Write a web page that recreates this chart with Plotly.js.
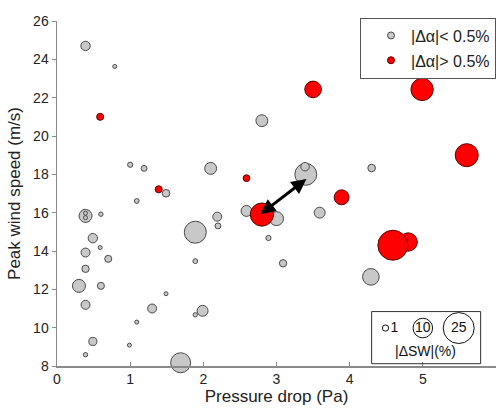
<!DOCTYPE html>
<html>
<head>
<meta charset="utf-8">
<script src="https://cdn.plot.ly/plotly-3.0.1.min.js"></script>
<style>html,body{margin:0;padding:0;background:#fff;}#chart{width:500px;height:408px;}</style>
</head>
<body>
<div id="chart"></div>
<script>
// Gray points: |Δα| < 0.5%
const grayX  = [0.39,0.79,1.00,1.19,2.10,1.49,1.09,0.39,0.39,0.39,0.60,0.49,0.59,0.39,0.70,0.39,0.30,0.60,0.39,1.30,1.09,0.49,0.99,0.39,1.49,1.89,1.89,2.19,2.20,1.99,1.89,1.69,2.59,2.80,3.40,3.39,3.00,3.59,2.89,3.09,4.30,4.29];
const grayY  = [24.70,23.63,18.50,18.31,18.31,17.01,16.61,15.83,15.97,15.74,15.92,14.67,14.18,13.92,13.59,13.07,12.18,12.18,11.19,11.00,10.29,9.28,9.09,8.59,11.77,13.47,14.98,15.79,15.31,10.88,10.67,8.17,16.09,20.80,18.00,18.40,15.69,16.00,14.68,13.36,18.33,12.65];
const graySW = [2.3,0.4,0.7,0.9,3.7,1.5,0.6,4.4,0.35,0.35,0.5,2.3,0.2,2.1,1.3,1.4,4.4,1.3,2.1,2.1,0.4,1.7,0.3,0.5,0.3,0.6,12.6,2.1,0.9,3.1,0.5,10.4,3.1,3.7,12.5,1.9,5.1,3.1,0.7,1.4,1.5,7.2];
// Red points: |Δα| > 0.5%
const redX  = [0.59,1.39,2.59,3.50,3.89,4.99,5.60,4.80,4.59,2.80];
const redY  = [21.00,17.22,17.80,22.43,16.80,22.43,19.00,14.47,14.30,15.90];
const redSW = [1.3,1.3,1.2,7.2,5.8,13.0,13.8,8.7,23.4,14.0];
// Size legend
const legendSizes = [1,10,25];
const legendLabels = ['1','10','25'];
const legendNames = ['|Δα|< 0.5%','|Δα|> 0.5%'];
// Arrow between the two highlighted cases
const arrowFrom = [3.43,17.82];
const arrowTo = [2.78,15.92];

const SREF = 2/38.4;
const FONT = 'Liberation Sans, Arial, sans-serif';
const GRAY = '#c8c8c8', RED = '#ff0000';

const traces = [
  {x: grayX, y: grayY, type:'scatter', mode:'markers', showlegend:false, cliponaxis:false,
   marker:{size: graySW, sizemode:'area', sizeref:SREF, sizemin:2, opacity:1, color:GRAY, line:{color:'#4a4a4a', width:1}}},
  {x: redX, y: redY, type:'scatter', mode:'markers', showlegend:false, cliponaxis:false,
   marker:{size: redSW, sizemode:'area', sizeref:SREF, sizemin:2, opacity:1, color:RED, line:{color:'#5a0000', width:1}}},
  {x:[null], y:[null], type:'scatter', mode:'markers', name: legendNames[0], legendgroup:'a',
   marker:{size:7, opacity:1, color:GRAY, line:{color:'#4a4a4a', width:1}}},
  {x:[null], y:[null], type:'scatter', mode:'markers', name: legendNames[1], legendgroup:'b',
   marker:{size:7, opacity:1, color:RED, line:{color:'#5a0000', width:1}}},
  {x:[4.49,5.0,5.49], y:[9.98,9.98,9.98], type:'scatter', mode:'markers+text', showlegend:false,
   text: legendLabels, textposition:['middle right','middle center','middle center'],
   textfont:{family:FONT, size:14, color:'#111'},
   marker:{size: legendSizes, sizemode:'area', sizeref:SREF, opacity:1, color:'rgba(255,255,255,0)', line:{color:'#111', width:1}}}
];

const axisCommon = {showgrid:false, zeroline:false, showline:true, linecolor:'#8a8a8a', linewidth:1.5,
  tickcolor:'#8a8a8a', ticklen:4, tickwidth:1, tickfont:{family:FONT, size:14, color:'#222'}};

const layout = {
  width:500, height:408,
  margin:{l:57, r:3.5, t:20.7, b:41.5},
  paper_bgcolor:'#fff', plot_bgcolor:'#fff',
  font:{family:FONT, color:'#222'},
  xaxis: Object.assign({}, axisCommon, {range:[0,6], dtick:1, tick0:0, ticks:'inside',
    title:{text:'Pressure drop (Pa)', font:{family:FONT, size:17, color:'#222'}, standoff:3}}),
  yaxis: Object.assign({}, axisCommon, {range:[8,26], dtick:2, tick0:8, ticks:'outside',
    title:{text:'Peak wind speed (m/s)', font:{family:FONT, size:17, color:'#222'}, standoff:8}}),
  showlegend:true,
  legend:{x:1, xanchor:'right', y:1.01, yanchor:'top', bgcolor:'#fff', bordercolor:'#555', borderwidth:1,
    font:{family:FONT, size:16, color:'#222'}, indentation:10, tracegroupgap:1},
  shapes:[{type:'rect', xref:'x', yref:'y', x0:4.30, x1:5.79, y0:8.12, y1:10.84, line:{color:'#333', width:1}, fillcolor:'rgba(0,0,0,0)'}],
  annotations:[
    {x:5.04, y:8.76, xref:'x', yref:'y', text:'|ΔSW|(%)', showarrow:false, font:{family:FONT, size:14, color:'#111'}},
    {x:arrowTo[0], y:arrowTo[1], ax:arrowFrom[0], ay:arrowFrom[1], xref:'x', yref:'y', axref:'x', ayref:'y',
     text:'', showarrow:true, arrowhead:2, startarrowhead:2, arrowside:'end+start', arrowwidth:3, arrowsize:1, startarrowsize:1, arrowcolor:'#000'}
  ]
};

Plotly.newPlot('chart', traces, layout, {displayModeBar:false, staticPlot:true});
</script>
</body>
</html>
